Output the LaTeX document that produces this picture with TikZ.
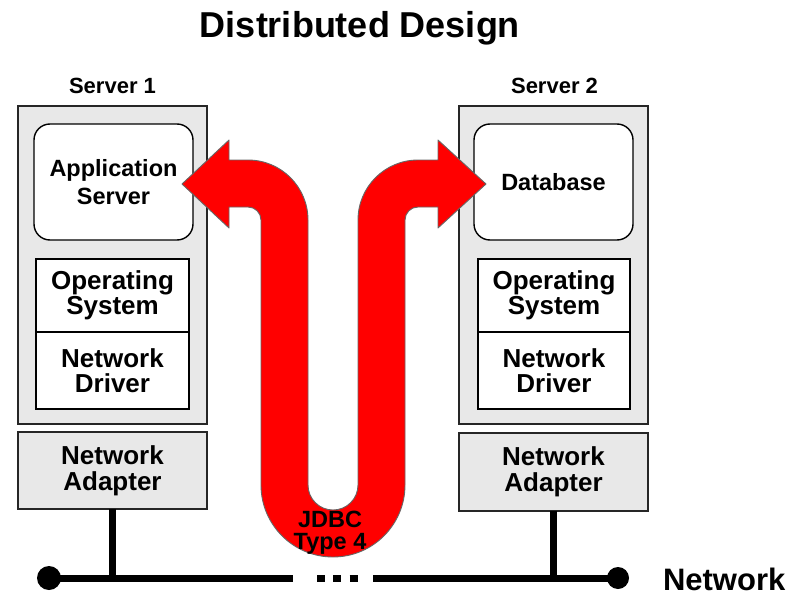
\documentclass[tikz,border=0pt]{standalone}
\usepackage{fontspec}
\setmainfont{Liberation Sans}
\begin{document}
\begin{tikzpicture}[x=1pt,y=-1pt,
  every node/.style={inner sep=0pt, outer sep=0pt},
  fs/.style 2 args={font=\bfseries\fontsize{#1}{#2}\selectfont, align=center},
  server/.style={draw=black!85, line width=1.4pt, fill=black!9,
    minimum width=189pt, minimum height=318pt},
  appbox/.style={draw=black, line width=1.4pt, fill=white, rounded corners=16pt,
    minimum width=159pt, minimum height=116pt, fs={23.5}{28}},
  layer/.style={draw=black, line width=1.4pt, fill=white,
    minimum width=153pt, fs={26}{25}},
  adapter/.style={draw=black!85, line width=1.4pt, fill=black!9,
    minimum width=189pt, minimum height=77pt, fs={26}{26}},
  bus/.style={line width=7pt, line cap=butt},
  drop/.style={line width=6.5pt},
  busend/.style={circle, fill=black, minimum size=#1},
  jdbc/.style={fill=red, draw=black!60, line width=0.9pt, line join=round}]

\useasboundingbox[fill=white] (0,0) rectangle (798,594);

% title
\node[fs={36}{36}, anchor=base] (title) at (360,38) {Distributed Design};

% server 1
\node[fs={22}{22}, anchor=base] (s1label) at (112.5,93) {Server 1};
\node[server] (srv1) at (112.5,265) {};
\node[appbox] (app) at (113.5,182) {Application\\Server};
\node[layer, minimum height=73pt] (os1) at (112.5,295.5) {Operating\\System};
\node[layer, minimum height=77pt] (drv1) at (112.5,370.5) {Network\\Driver};
\node[adapter] (ad1) at (112.5,470.5) {Network\\Adapter};

% server 2
\node[fs={22}{22}, anchor=base] (s2label) at (554.5,93) {Server 2};
\node[server] (srv2) at (553.5,265) {};
\node[appbox] (db) at (553.5,182) {Database};
\node[layer, minimum width=152pt, minimum height=73pt] (os2) at (554,295.5) {Operating\\System};
\node[layer, minimum width=152pt, minimum height=77pt] (drv2) at (554,370.5) {Network\\Driver};
\node[adapter, minimum height=78pt] (ad2) at (553.5,472) {Network\\Adapter};

% network bus
\node[busend=24pt] (busL) at (49,578) {};
\node[busend=22pt] (busR) at (618,578) {};
\coordinate (gapL) at (293,578);
\coordinate (gapR) at (373,578);
\coordinate (dotsL) at (317,578);
\coordinate (dotsR) at (358,578);
\draw[bus] (busL.center) -- (gapL);
\draw[bus] (gapR) -- (busR.center);
\draw[bus, dash pattern=on 8pt off 8.3pt] (dotsL) -- (dotsR);
\draw[drop] (ad1.south) -- (ad1.south |- busL.center);
\draw[drop] (ad2.south) -- (ad2.south |- busR.center);
\node[fs={31}{31}, anchor=base west] (net) at (663,590.5) {Network};

% JDBC connection: U-shaped double arrow
\path[jdbc] (182,184) -- (229,140) -- (229,160) -- (248,160)
  arc[start angle=270, end angle=360, radius=60] -- (308,485)
  arc[start angle=180, end angle=0, radius=25] -- (358,220)
  arc[start angle=180, end angle=270, radius=60] -- (438,160)
  -- (438,140) -- (486,184) -- (438,228) -- (438,207) -- (418,207)
  arc[start angle=270, end angle=180, radius=13] -- (405,485)
  arc[start angle=0, end angle=180, radius=72] -- (261,220)
  arc[start angle=0, end angle=-90, radius=13] -- (229,207)
  -- (229,228) -- cycle;
\node[fs={23.5}{22}] (jdbclabel) at (330,533) {JDBC\\Type 4};
\end{tikzpicture}
\end{document}
